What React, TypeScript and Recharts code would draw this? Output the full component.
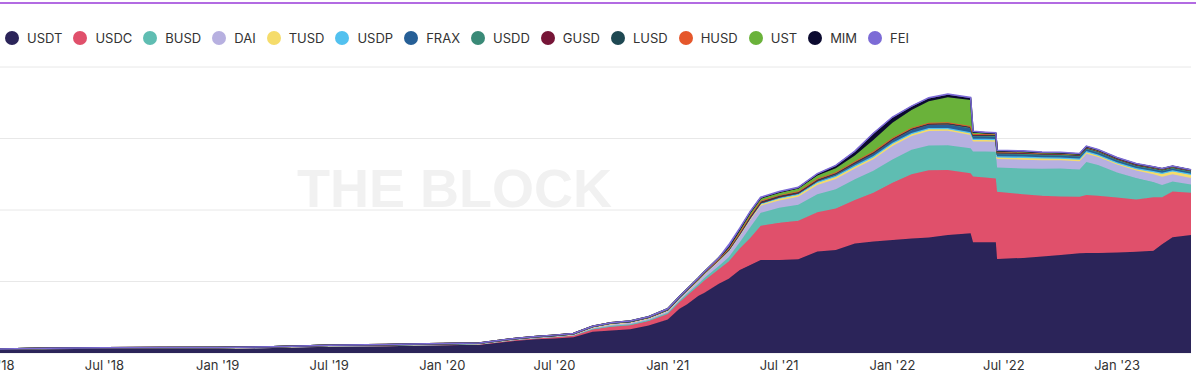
import { AreaChart, Area, XAxis, YAxis, CartesianGrid } from "recharts";

// sample dates (denser around the 2021 run-up and the May/June 2022 events)
const dates = [
  "2018-01-01", "2018-04-01", "2018-07-01", "2018-10-01",
  "2019-01-01", "2019-04-01", "2019-07-01", "2019-10-01",
  "2020-01-01", "2020-03-01", "2020-04-01", "2020-05-01", "2020-06-01", "2020-07-01",
  "2020-08-01", "2020-09-01", "2020-10-01", "2020-11-01", "2020-12-01",
  "2021-01-01",
  "2021-01-20", "2021-02-01", "2021-02-20", "2021-03-01", "2021-03-25", "2021-04-10",
  "2021-04-28", "2021-05-15", "2021-06-01", "2021-07-01", "2021-08-01", "2021-09-01",
  "2021-10-01", "2021-11-01", "2021-12-01",
  "2022-01-01", "2022-02-01", "2022-03-01", "2022-04-01", "2022-05-08", "2022-05-12",
  "2022-06-01", "2022-06-18", "2022-06-20", "2022-08-01", "2022-09-01", "2022-10-01",
  "2022-11-01", "2022-11-12", "2022-12-01",
  "2023-01-01", "2023-02-01", "2023-03-01", "2023-03-15", "2023-04-01", "2023-05-01",
];

// supply, $bn
const usdt = [
  2.6, 3.2, 3.5, 3.4, 3.1, 3.7, 4.5, 4.8,
  5.4, 5.7, 7.2, 8.6, 9.6, 10.2, 11.0, 14.8, 15.8, 16.6, 19.2,
  23.5,
  31, 34, 40, 42, 48.5, 52, 58, 61.5, 65, 65, 65.5, 71, 72, 76.5, 78,
  79, 80, 80.8, 82.5, 83.7, 77.4, 77.4, 77.4, 65.7, 66.5, 67.5, 68.5, 69.7, 70, 70,
  70.3, 70.8, 71.5, 76, 81, 82.5,
];
const usdc = [
  0, 0, 0, 0.08, 0.25, 0.25, 0.4, 0.45,
  0.5, 0.6, 0.75, 0.85, 0.95, 1.1, 1.3, 1.8, 2.6, 2.8, 3.1,
  3.8,
  4.5, 6, 7, 8.5, 10, 12, 15, 19, 24, 26, 27, 27.5, 29, 30.5, 34,
  40, 45, 47, 45.5, 42, 46, 45.3, 44.7, 47, 44.5, 42.5, 41, 39.6, 40.5, 40,
  38.5, 36.5, 37.5, 33, 32, 29.5,
];
const busd = [
  0, 0, 0, 0, 0, 0, 0, 0.05,
  0.1, 0.12, 0.15, 0.16, 0.17, 0.2, 0.25, 0.4, 0.6, 0.7, 0.7,
  0.9,
  1.0, 1.2, 1.5, 1.8, 2.4, 3.0, 4.5, 7.5, 9.0, 10.5, 11.2, 12.5, 13.5, 14.5, 15.5,
  16.3, 17.2, 17.3, 17.3, 17.5, 17.5, 18.2, 18.7, 17, 18, 18.8, 19.5, 19, 23, 21.5,
  17.5, 15, 10.5, 8.5, 7, 5.8,
];
const dai = [
  0.05, 0.05, 0.06, 0.07, 0.08, 0.09, 0.1, 0.1,
  0.1, 0.1, 0.1, 0.11, 0.12, 0.14, 0.2, 0.6, 0.9, 1.0, 1.0,
  1.2,
  1.5, 1.8, 2.2, 2.4, 3.3, 3.8, 4.5, 5.0, 5.0, 5.2, 5.5, 6.5, 7.2, 7.5, 8.0,
  9.5, 9.5, 10.2, 10.2, 9.3, 7, 7, 7, 6, 6.2, 6, 5.8, 5.8, 5.8, 5.6,
  5.5, 5.4, 5.5, 5.8, 5, 4.6,
];
const tusd = [
  0.05, 0.08, 0.1, 0.15, 0.2, 0.2, 0.2, 0.18,
  0.14, 0.13, 0.17, 0.22, 0.3, 0.35, 0.4, 0.5, 0.5, 0.5, 0.45,
  0.4,
  0.35, 0.35, 0.4, 0.4, 0.45, 0.5, 0.6, 0.8, 1.0, 1.2, 1.3, 1.4, 1.4, 1.3, 1.3,
  1.3, 1.2, 1.1, 1.0, 1.0, 1.0, 1.0, 0.95, 0.95, 1.2, 1.15, 1.05, 1.0, 1.0, 0.9,
  0.8, 0.8, 1.4, 1.9, 2.0, 2.1,
];
const usdp = [
  0, 0, 0, 0.05, 0.15, 0.18, 0.25, 0.25,
  0.25, 0.25, 0.25, 0.25, 0.25, 0.3, 0.3, 0.35, 0.4, 0.35, 0.4,
  0.45,
  0.5, 0.5, 0.55, 0.55, 0.55, 0.6, 0.6, 0.7, 0.7, 0.8, 0.85, 0.9, 0.9, 0.95, 0.9,
  0.9, 0.9, 0.9, 0.9, 0.95, 0.95, 0.95, 0.95, 0.95, 0.95, 0.9, 0.9, 0.9, 0.9, 0.88,
  0.87, 0.86, 0.86, 0.85, 0.85, 0.83,
];
const frax = [
  0, 0, 0, 0, 0, 0, 0, 0,
  0, 0, 0, 0, 0, 0, 0, 0, 0.1, 0.1, 0.1,
  0.1,
  0.12, 0.13, 0.14, 0.15, 0.2, 0.22, 0.25, 0.3, 0.3, 0.35, 0.5, 0.8, 1.2, 1.6, 2.0,
  2.2, 2.5, 2.6, 2.8, 2.9, 1.7, 1.5, 1.4, 1.4, 1.35, 1.3, 1.25, 1.2, 1.2, 1.15,
  1.1, 1.05, 1.05, 1.05, 1.0, 1.0,
];
const usdd = [
  0, 0, 0, 0, 0, 0, 0, 0,
  0, 0, 0, 0, 0, 0, 0, 0, 0, 0, 0,
  0,
  0, 0, 0, 0, 0, 0, 0, 0, 0, 0, 0, 0, 0, 0, 0,
  0, 0, 0, 0, 0.2, 0.4, 0.65, 0.7, 0.7, 0.7, 0.7, 0.72, 0.72, 0.72, 0.72,
  0.72, 0.72, 0.72, 0.72, 0.72, 0.72,
];
const gusd = [
  0, 0, 0, 0.01, 0.02, 0.02, 0.01, 0.01,
  0.01, 0.01, 0.01, 0.01, 0.01, 0.01, 0.02, 0.03, 0.03, 0.04, 0.05,
  0.05,
  0.05, 0.06, 0.08, 0.1, 0.1, 0.1, 0.12, 0.12, 0.15, 0.15, 0.15, 0.18, 0.2, 0.2, 0.2,
  0.2, 0.2, 0.25, 0.3, 0.4, 0.45, 0.5, 0.55, 0.55, 0.65, 0.6, 0.6, 0.6, 0.65, 0.62,
  0.6, 0.58, 0.56, 0.53, 0.5, 0.5,
];
const lusd = [
  0, 0, 0, 0, 0, 0, 0, 0,
  0, 0, 0, 0, 0, 0, 0, 0, 0, 0, 0,
  0,
  0, 0, 0, 0, 0, 0.3, 0.4, 0.8, 0.8, 0.7, 0.6, 0.5, 0.5, 0.5, 0.5,
  0.5, 0.45, 0.4, 0.35, 0.3, 0.3, 0.25, 0.25, 0.25, 0.25, 0.22, 0.22, 0.2, 0.2, 0.2,
  0.22, 0.24, 0.25, 0.25, 0.26, 0.27,
];
const husd = [
  0, 0, 0, 0, 0, 0, 0, 0.05,
  0.1, 0.15, 0.12, 0.15, 0.15, 0.2, 0.2, 0.2, 0.2, 0.2, 0.2,
  0.3,
  0.3, 0.3, 0.3, 0.3, 0.3, 0.35, 0.4, 0.45, 0.5, 0.5, 0.5, 0.5, 0.5, 0.55, 0.6,
  0.6, 0.55, 0.5, 0.5, 0.5, 0.45, 0.4, 0.3, 0.3, 0.1, 0.05, 0.03, 0.02, 0.02, 0.02,
  0.02, 0.02, 0.01, 0.01, 0.01, 0.01,
];
const ust = [
  0, 0, 0, 0, 0, 0, 0, 0,
  0, 0, 0, 0, 0, 0, 0, 0, 0, 0.1, 0.2,
  0.2,
  0.25, 0.3, 0.4, 0.5, 0.8, 1.3, 2.0, 2.2, 1.9, 1.9, 1.95, 2.3, 2.8, 4.0, 8.0,
  10.5, 12.5, 15.0, 17.5, 18.2, 0.9, 0.5, 0.4, 0.3, 0.3, 0.25, 0.2, 0.2, 0.18, 0.17,
  0.15, 0.13, 0.12, 0.11, 0.1, 0.1,
];
const mim = [
  0, 0, 0, 0, 0, 0, 0, 0,
  0, 0, 0, 0, 0, 0, 0, 0, 0, 0, 0,
  0,
  0, 0, 0, 0, 0, 0, 0, 0.05, 0.05, 0.1, 0.4, 0.9, 1.6, 2.6, 4.2,
  3.5, 2.2, 2.0, 1.8, 1.3, 0.6, 0.4, 0.3, 0.3, 0.2, 0.2, 0.2, 0.2, 0.15, 0.15,
  0.12, 0.12, 0.1, 0.1, 0.1, 0.1,
];
const fei = [
  0, 0, 0, 0, 0, 0, 0, 0,
  0, 0, 0, 0, 0, 0, 0, 0, 0, 0, 0,
  0,
  0, 0, 0, 0, 0, 1.5, 0.9, 0.6, 0.55, 0.5, 0.45, 0.45, 0.45, 0.45, 0.5,
  0.5, 0.5, 0.5, 0.5, 0.5, 0.4, 0.4, 0.4, 0.4, 0.45, 0.45, 0.42, 0.4, 0.35, 0.35,
  0.32, 0.3, 0.25, 0.2, 0.15, 0.1,
];

const tickDates = [
  "2018-01-01", "2018-07-01", "2019-01-01", "2019-07-01", "2020-01-01", "2020-07-01",
  "2021-01-01", "2021-07-01", "2022-01-01", "2022-07-01", "2023-01-01",
];
const yTicks = [0, 50, 100, 150, 200];

const series = [
  { key: "USDT", color: "#2b2459", values: usdt },
  { key: "USDC", color: "#e0506b", values: usdc },
  { key: "BUSD", color: "#5fbdb2", values: busd },
  { key: "DAI", color: "#b7b0e0", values: dai },
  { key: "TUSD", color: "#f5dc6b", values: tusd },
  { key: "USDP", color: "#52c1ef", values: usdp },
  { key: "FRAX", color: "#265f96", values: frax },
  { key: "USDD", color: "#3a8a77", values: usdd },
  { key: "GUSD", color: "#761537", values: gusd },
  { key: "LUSD", color: "#1e4852", values: lusd },
  { key: "HUSD", color: "#e5572b", values: husd },
  { key: "UST", color: "#6ab23a", values: ust },
  { key: "MIM", color: "#0b0a2f", values: mim },
  { key: "FEI", color: "#7c6bd6", values: fei },
];

const data = dates.map((d, i) => {
  const row: Record<string, number> = { t: Date.parse(d) };
  series.forEach((s) => {
    row[s.key] = s.values[i];
  });
  return row;
});

const months = ["Jan", "Feb", "Mar", "Apr", "May", "Jun", "Jul", "Aug", "Sep", "Oct", "Nov", "Dec"];
const fmtTick = (v: number) => {
  const d = new Date(v);
  return `${months[d.getUTCMonth()]} '${String(d.getUTCFullYear()).slice(2)}`;
};

export default function App() {
  const font = "Inter, 'Noto Sans', sans-serif";
  return (
    <div
      style={{
        position: "absolute",
        left: 0,
        top: 0,
        width: 1200,
        height: 389,
        overflow: "hidden",
        background: "#fff",
        fontFamily: font,
      }}
    >
      <div style={{ position: "absolute", left: 0, top: 2, width: 1196, height: 2, background: "#b26be2" }} />

      <div style={{ position: "absolute", left: 5, top: 31, display: "flex", alignItems: "center" }}>
        {series.map((s) => (
          <div key={s.key} style={{ display: "flex", alignItems: "center", marginRight: 11 }}>
            <span
              style={{ width: 14, height: 14, borderRadius: 7, background: s.color, marginRight: 8, display: "inline-block" }}
            />
            <span style={{ fontSize: 13, color: "#333", lineHeight: "14px" }}>{s.key}</span>
          </div>
        ))}
      </div>

      <div
        style={{
          position: "absolute",
          left: 297,
          top: 157,
          fontFamily: "'Liberation Sans', Arial, sans-serif",
          fontWeight: 700,
          fontSize: 54,
          color: "#f1f1f1",
          whiteSpace: "nowrap",
        }}
      >
        THE BLOCK
      </div>

      <div style={{ position: "absolute", left: -50, top: 0 }}>
        <AreaChart width={1250} height={389} data={data} margin={{ top: 67, right: 9, left: 43, bottom: 6 }}>
          <CartesianGrid vertical={false} stroke="#e8e8e8" />
          <XAxis
            dataKey="t"
            type="number"
            scale="linear"
            domain={[Date.parse(dates[0]), Date.parse(dates[dates.length - 1])]}
            ticks={tickDates.map((d) => Date.parse(d))}
            tickFormatter={fmtTick}
            axisLine={false}
            tickLine={false}
            height={30}
            tick={{ fill: "#333", fontSize: 13, fontFamily: font }}
          />
          <YAxis hide domain={[0, 200]} ticks={yTicks} />
          {series.map((s) => (
            <Area
              key={s.key}
              type="linear"
              dataKey={s.key}
              stackId="1"
              stroke={s.color}
              strokeWidth={1.5}
              fill={s.color}
              fillOpacity={1}
              isAnimationActive={false}
            />
          ))}
        </AreaChart>
      </div>
    </div>
  );
}
